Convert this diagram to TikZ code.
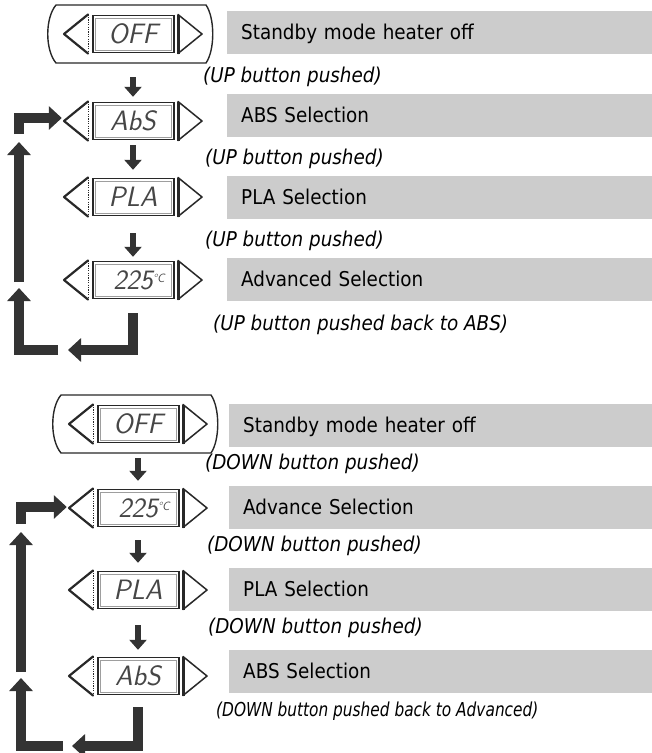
\documentclass[tikz,border=0pt]{standalone}
\usepackage{fontspec}
\setmainfont{DejaVu Sans}[FakeStretch=0.9]
\newfontfamily\narrowsans{DejaVu Sans}[FakeStretch=0.8]
\usetikzlibrary{arrows.meta}
\definecolor{arrcol}{RGB}{51,51,51}
\definecolor{boxgray}{RGB}{204,204,204}
\definecolor{devline}{RGB}{40,40,40}
\definecolor{lcdtxt}{RGB}{70,70,70}
\tikzset{
  devnode/.style={minimum width=142pt, minimum height=42pt, inner sep=0pt},
  offnode/.style={minimum width=168pt, minimum height=60pt, inner sep=0pt},
  lcdtext/.style={text=lcdtxt, font=\sffamily\slshape\fontsize{28}{28}\selectfont, inner sep=0pt},
  gbox/.style={fill=boxgray, anchor=west, minimum height=43pt, inner xsep=14pt, inner ysep=0pt, text width=#1, align=left, text height=17pt, text depth=2.1pt, font=\fontsize{20.4}{24}\selectfont},
  lbl/.style={anchor=west, inner sep=0pt, text height=17pt, text depth=2.1pt, font=\itshape\fontsize{20.4}{24}\selectfont},
  lblnarrow/.style={lbl, font=\narrowsans\itshape\fontsize{19.2}{23}\selectfont},
  smallarr/.style={draw=arrcol, line width=6pt, -{Triangle[width=17pt,length=10pt]}},
  bigarr/.style={draw=arrcol, line width=10pt, line join=miter, -{Triangle[width=23pt,length=13pt]}},
  device/.pic={
    \draw[devline, line width=1.8pt] (-40,-18.5) rectangle (41,18.5);
    \draw[devline!45, line width=0.4pt] (-37.5,-16) rectangle (38.5,16);
    \draw[devline, line width=2.2pt, line join=round, line cap=round] (-45,-19.5) -- (-69,0) -- (-45,19.5);
    \draw[devline, line width=0.9pt, dash pattern=on 1.2pt off 1.2pt] (-45,-19.5) -- (-45,19.5);
    \draw[devline, line width=1.5pt, line join=round, line cap=round] (45,-19.5) -- (69,0) -- (45,19.5);
    \draw[devline, line width=3pt] (45.5,-19.5) -- (45.5,19.5);
  },
  offframe/.pic={
    \draw[devline, line width=1.4pt] (-77,-29) -- (73,-29) .. controls (82,-16) and (82,16) .. (73,29) -- (-77,29) .. controls (-88,16) and (-88,-16) .. (-77,-29) -- cycle;
  },
}
\begin{document}
\begin{tikzpicture}[x=1pt,y=-1pt]
\useasboundingbox (0,0) rectangle (652,753);

% ---------- upper sequence ----------
\node[offnode] (off1) at (133,34) {};
\pic at (off1.center) {offframe};
\pic at (off1.center) {device};
\node[lcdtext] (off1t) at (off1.center) {OFF};

\node[devnode] (abs1) at (133,121) {};
\pic at (abs1.center) {device};
\node[lcdtext] (abs1t) at (abs1.center) {AbS};

\node[devnode] (pla1) at (133,197) {};
\pic at (pla1.center) {device};
\node[lcdtext] (pla1t) at (pla1.center) {PLA};

\node[devnode] (adv1) at (133,280) {};
\pic at (adv1.center) {device};
\node[lcdtext] (adv1t) at ([xshift=6pt]adv1.center) {225\raisebox{7pt}{\fontsize{12}{12}\selectfont °C}};

\node[gbox=397pt] (s1) at (227,32.5) {Standby mode heater off};
\node[gbox=397pt] (s2) at (227,115) {ABS Selection};
\node[gbox=397pt] (s3) at (227,197) {PLA Selection};
\node[gbox=397pt] (s4) at (227,279) {Advanced Selection};

\node[lbl] (l1) at (203,75) {(UP button pushed)};
\node[lbl] (l2) at (205,157) {(UP button pushed)};
\node[lbl] (l3) at (205,239) {(UP button pushed)};
\node[lbl] (l4) at (213,323) {(UP button pushed back to ABS)};

\draw[smallarr, shorten <=13pt, shorten >=3pt] (off1) -- (abs1);
\draw[smallarr, shorten <=3pt, shorten >=6pt] (abs1) -- (pla1);
\draw[smallarr, shorten <=15pt, shorten >=2pt] (pla1) -- (adv1);

\coordinate (ua) at (19,134);
\draw[bigarr] (ua) |- ([yshift=3pt]abs1.west);
\coordinate (ub1) at (19,282);
\coordinate (ub2) at (19,142);
\draw[bigarr] (ub1) -- (ub2);
\coordinate (uc1) at (58,350);
\coordinate (uc2) at (19,288);
\draw[bigarr] (uc1) -| (uc2);
\coordinate (ud) at (68,350);
\draw[bigarr] ([yshift=-12pt]adv1.south) |- (ud);

% ---------- lower sequence ----------
\node[offnode] (off2) at (138,424) {};
\pic at (off2.center) {offframe};
\pic at (off2.center) {device};
\node[lcdtext] (off2t) at (off2.center) {OFF};

\node[devnode] (adv2) at (138,508) {};
\pic at (adv2.center) {device};
\node[lcdtext] (adv2t) at ([xshift=6pt]adv2.center) {225\raisebox{7pt}{\fontsize{12}{12}\selectfont °C}};

\node[devnode] (pla2) at (138,590) {};
\pic at (pla2.center) {device};
\node[lcdtext] (pla2t) at (pla2.center) {PLA};

\node[devnode] (abs2) at (138,676) {};
\pic at (abs2.center) {device};
\node[lcdtext] (abs2t) at (abs2.center) {AbS};

\node[gbox=395pt] (s5) at (229,425.5) {Standby mode heater off};
\node[gbox=395pt] (s6) at (229,507.5) {Advance Selection};
\node[gbox=395pt] (s7) at (229,589.5) {PLA Selection};
\node[gbox=395pt] (s8) at (229,671.5) {ABS Selection};

\node[lbl] (l5) at (205,462) {(DOWN button pushed)};
\node[lbl] (l6) at (207,544) {(DOWN button pushed)};
\node[lbl] (l7) at (208,626) {(DOWN button pushed)};
\node[lblnarrow] (l8) at (216,709) {(DOWN button pushed back to Advanced)};

\draw[smallarr, shorten <=4pt, shorten >=6pt] (off2) -- (adv2);
\draw[smallarr, shorten <=11pt, shorten >=6pt] (adv2) -- (pla2);
\draw[smallarr, shorten <=14pt, shorten >=5pt] (pla2) -- (abs2);

\coordinate (da) at (21,524);
\draw[bigarr] (da) |- ([yshift=1pt]adv2.west);
\coordinate (db1) at (21,672);
\coordinate (db2) at (21,532);
\draw[bigarr] (db1) -- (db2);
\coordinate (dc1) at (63,746);
\coordinate (dc2) at (21,678);
\draw[bigarr] (dc1) -| (dc2);
\coordinate (dd) at (72,746);
\draw[bigarr] ([yshift=-10pt]abs2.south) |- (dd);
\end{tikzpicture}
\end{document}
